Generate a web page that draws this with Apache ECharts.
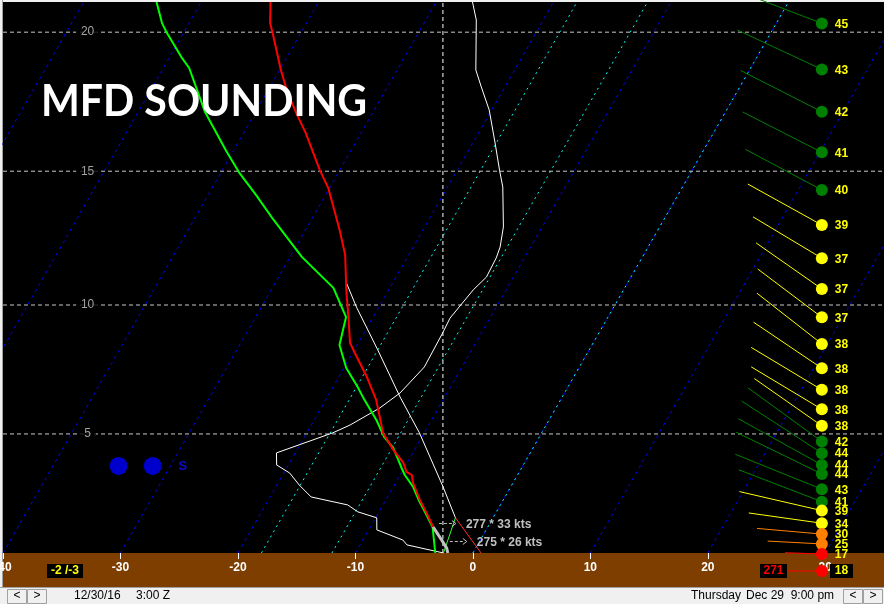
<!DOCTYPE html>
<html><head><meta charset="utf-8">
<script src="https://cdn.jsdelivr.net/npm/echarts/dist/echarts.min.js"></script>
<style>html,body{margin:0;padding:0;background:#f0f0f0;overflow:hidden}#c{width:884px;height:604px}</style>
</head><body><div id="c"></div>
<script>
// ---------------- data ----------------
const title = 'MFD SOUNDING';
const tempTicks = [-40, -30, -20, -10, 0, 10, 20, 30];
const heightLevelsKft = [5, 10, 15, 20];
const isoBlue = [-80, -70, -60, -50, -40, -30, -20, -10, 0, 10, 20, 30];
const isoCyan = [-18, -12, 0];
const refLineT = -2.55;

// temperature profile (deg C vs kft)
const tempKft = [21.06, 20.32, 19.97, 18.66, 17.84, 17.12, 16.39, 15.04, 14.38, 12.83, 11.89, 10.57, 9.54, 8.55, 8.16, 7.23, 6.34, 5.04, 4.37, 3.85, 3.49, 3.37, 3.05, 2.37, 1.85, 1.44, 1.28];
const tempC   = [-44.1, -43.1, -42.4, -39.9, -38.2, -36.5, -34.7, -31.7, -30.1, -27.1, -25.4, -23.6, -22.1, -20.7, -19.8, -17.6, -15.7, -13.5, -11.8, -10.3, -9.6, -9.0, -8.5, -7.1, -5.9, -5.0, -4.65];
// near-surface layer (grey)
const layerKft = [1.28, 0.96, 0.75, 0.42, 0.22];
const layerC   = [-4.65, -3.83, -3.29, -2.47, -2.13];
// dewpoint profile
const dewKft = [21.06, 20.32, 20.01, 19.12, 18.73, 18.01, 17.15, 15.74, 14.97, 14.12, 13.2, 11.82, 10.65, 9.54, 8.47, 7.58, 6.84, 6.34, 5.55, 4.88, 4.45, 3.69, 3.37, 2.89, 2.37, 1.85, 1.28, 0.22];
const dewC   = [-53.8, -52.3, -51.5, -49.0, -47.8, -46.2, -44.3, -40.6, -38.5, -35.9, -33.2, -29.0, -24.8, -22.3, -21.5, -19.8, -17.9, -16.7, -14.7, -13.2, -11.9, -10.3, -9.6, -8.3, -7.2, -6.0, -4.7, -3.2];
// white profile
const profKft = [21.06, 20.43, 18.66, 18.05, 17.22, 16.03, 15.04, 14.42, 12.94, 12.19, 11.78, 11.06, 10.57, 9.50, 8.93, 7.62, 6.61, 6.02, 5.35, 5.04, 4.25, 3.77, 3.45, 2.97, 2.49, 2.17, 1.89, 1.65, 1.16, 0.75, 0.55, 0.22];
const profC   = [-26.9, -25.7, -23.3, -22.0, -20.2, -18.1, -16.4, -15.3, -13.3, -12.6, -12.4, -12.3, -12.8, -13.4, -13.3, -13.2, -14.0, -15.0, -16.7, -17.8, -21.6, -21.0, -19.5, -18.1, -16.5, -13.0, -11.8, -9.9, -9.3, -6.6, -6.0, -2.5];
// parcel
const parcelKft = [10.87, 9.92, 8.28, 6.45, 5.04, 2.89, 1.65];
const parcelC   = [-24.0, -21.9, -18.0, -13.8, -10.4, -5.75, -3.2];
const linkKft = [1.65, 0.22];
const linkTempC = [-3.2, 0.7];
const linkDewC = [-3.2, -2.5];

// winds
const windKft = [20.31, 18.68, 17.16, 15.69, 14.31, 13.01, 11.77, 10.61, 9.53, 8.51, 7.57, 6.73, 5.97, 5.32, 4.70, 4.24, 3.77, 3.41, 2.80, 2.30, 1.94, 1.43, 0.99, 0.59, 0.18];
const windSpd = [45, 43, 42, 41, 40, 39, 37, 37, 37, 38, 38, 38, 38, 38, 42, 44, 44, 44, 43, 41, 39, 34, 30, 25, 17];
const windDir = [291, 295, 297, 297, 298, 299, 301, 305, 307, 308, 304, 301, 301, 305, 306, 303, 299, 296, 292, 291, 283, 278, 275, 273, 272];
const annKft = [1.42, 0.69];
const annX = [-2.89, -1.96];
const annDir = [277, 275];
const annSpd = [33, 26];
const sfcTemp = -2, sfcDew = -3, sfcDir = 271, sfcSpd = 18;

const precipType = 'S';
const precipKft = 3.73;
const precipDotsX = [-30.16, -27.26];
const precipLabelX = -24.7;

const dateLeft = '12/30/16', timeLeft = '3:00 Z', dayRight = 'Thursday', dateRight = 'Dec 29  9:00 pm';

// ---------------- scales ----------------
const BOTTOM_KFT = 0.22, TOP_KFT = 21.06;
function kftToL(k) { return -5.2559 * Math.log(1 - 6.8756e-6 * k * 1000); }
const LB = kftToL(BOTTOM_KFT), LT = kftToL(TOP_KFT);
const SKEW = 33.0;
function sk(t, k) { const L = kftToL(k); return [t + SKEW * (L - LB), L]; }
const BARB_X = 29.71;
const LABEL_X = -32.8;

const F = '"Liberation Sans", Arial, sans-serif';
const series = [];
function lineS(data, color, width, type, z) {
  return { type: 'line', data: data, symbol: 'none', silent: true, animation: false, clip: true,
    lineStyle: { color: color, width: width, type: type }, z: z };
}
isoBlue.forEach(t => series.push(lineS([[t, LB], [t + SKEW * (LT - LB), LT]], '#0000ff', 1, [3, 4], 1)));
isoCyan.forEach(t => series.push(lineS([[t, LB], [t + SKEW * (LT - LB), LT]], '#00ffff', 1, [2, 4], 1)));
heightLevelsKft.forEach(k => series.push(lineS([[-40, kftToL(k)], [35, kftToL(k)]], '#c8c8c8', 1, [4, 3], 1)));
series.push({ type: 'scatter', silent: true, animation: false, z: 2, symbolSize: 1,
  itemStyle: { color: 'rgba(0,0,0,0)' },
  data: heightLevelsKft.map(k => [LABEL_X, kftToL(k), k]),
  label: { show: true, position: 'inside', formatter: p => String(p.value[2]), color: '#c8c8c8',
    fontSize: 12, fontFamily: F, backgroundColor: '#000', padding: [1, 5] } });
series.push(lineS([[refLineT, LB], [refLineT, LT]], '#ffffff', 1, [4, 3], 1));
series.push(lineS(profC.map((t, i) => sk(t, profKft[i])), '#ffffff', 1, 'solid', 2));
series.push(lineS(parcelC.map((t, i) => sk(t, parcelKft[i])), '#ffffff', 1, 'solid', 2));
series.push(lineS(linkTempC.map((t, i) => sk(t, linkKft[i])), '#ff3030', 1, 'solid', 2));
series.push(lineS(linkDewC.map((t, i) => sk(t, linkKft[i])), '#30ff30', 1, 'solid', 2));
series.push(lineS(dewC.map((t, i) => sk(t, dewKft[i])), '#00ff00', 2, 'solid', 3));
series.push(lineS(tempC.map((t, i) => sk(t, tempKft[i])), '#ff0000', 2, 'solid', 3));
series.push(lineS(layerC.map((t, i) => sk(t, layerKft[i])), '#c0c0c0', 3, 'solid', 4));

// precip dots
series.push({ type: 'scatter', silent: true, animation: false, z: 4, symbolSize: 18,
  itemStyle: { color: '#0000ff' },
  data: precipDotsX.map(x => [x, kftToL(precipKft)]) });
series.push({ type: 'scatter', silent: true, animation: false, z: 4, symbolSize: 1,
  itemStyle: { color: 'rgba(0,0,0,0)' }, data: [[precipLabelX, kftToL(precipKft)]],
  label: { show: true, position: 'inside', formatter: precipType, color: '#1010ff', fontSize: 13, fontWeight: 'bold', fontFamily: F } });

function windColor(s) { return s >= 40 ? '#008000' : s > 30 ? '#ffff00' : s > 20 ? '#ff8000' : '#ff0000'; }
series.push({ type: 'custom', coordinateSystem: 'cartesian2d', clip: false, animation: false, silent: true, z: 5,
  data: windKft.map((k, i) => [BARB_X, kftToL(k), windSpd[i], windDir[i]]),
  renderItem: function (params, api) {
    const p = api.coord([api.value(0), api.value(1)]);
    const spd = api.value(2), dir = api.value(3);
    const len = 2.17 * spd, a = (dir - 270) * Math.PI / 180;
    const col = windColor(spd);
    return { type: 'group', children: [
      { type: 'line', shape: { x1: p[0] - len * Math.cos(a), y1: p[1] - len * Math.sin(a), x2: p[0], y2: p[1] }, style: { stroke: col, lineWidth: 1 } },
      { type: 'circle', shape: { cx: p[0], cy: p[1], r: 6 }, style: { fill: col } },
      { type: 'text', style: { text: String(spd), x: p[0] + 13, y: p[1] + 1, fill: '#ffff00', font: 'bold 12px ' + F,
        textAlign: 'left', textVerticalAlign: 'middle', align: 'left', verticalAlign: 'middle' } }
    ] };
  } });
series.push({ type: 'custom', coordinateSystem: 'cartesian2d', clip: false, animation: false, silent: true, z: 5,
  data: annKft.map((k, i) => [annX[i], kftToL(k), annDir[i], annSpd[i]]),
  renderItem: function (params, api) {
    const p = api.coord([api.value(0), api.value(1)]);
    const g = '#c0c0c0';
    return { type: 'group', children: [
      { type: 'line', shape: { x1: p[0], y1: p[1], x2: p[0] + 14, y2: p[1] }, style: { stroke: g, lineWidth: 1, lineDash: [3, 2] } },
      { type: 'polyline', shape: { points: [[p[0] + 13, p[1] - 3], [p[0] + 17, p[1]], [p[0] + 13, p[1] + 3]] }, style: { stroke: g, lineWidth: 1, fill: null } },
      { type: 'text', style: { text: api.value(2) + ' * ' + api.value(3) + ' kts', x: p[0] + 27, y: p[1] + 1, fill: g, font: 'bold 12px ' + F,
        textAlign: 'left', textVerticalAlign: 'middle', align: 'left', verticalAlign: 'middle' } }
    ] };
  } });

function txt(text, x, y, fill, font, align, z) {
  return { type: 'text', z: z || 10, style: { text: text, x: x, y: y, fill: fill, font: font,
    textAlign: align || 'left', textVerticalAlign: 'middle', align: align || 'left', verticalAlign: 'middle' } };
}
function rect(x, y, w, h, fill, z, stroke) {
  return { type: 'rect', z: z, shape: { x: x, y: y, width: w, height: h }, style: { fill: fill, stroke: stroke || null, lineWidth: 1 } };
}
const titleEl = txt(title, 0, 0, '#ffffff', 'bold 44px Lato, "Open Sans", sans-serif', 'left', 10);
titleEl.x = 41; titleEl.y = 102; titleEl.scaleX = 0.934;
const graphics = [
  rect(3, 553, 881, 34, '#7e3e00', -1),
  { type: 'line', z: -1, shape: { x1: 2.5, y1: 0, x2: 2.5, y2: 587 }, style: { stroke: '#a0a0a0', lineWidth: 1 } },
  { type: 'line', z: -1, shape: { x1: 0, y1: 587.5, x2: 884, y2: 587.5 }, style: { stroke: '#a0a0a0', lineWidth: 1 } },
  titleEl,
  rect(47, 564, 36, 14, '#000', 10),
  txt(sfcTemp + ' /' + sfcDew, 65, 571, '#ffff00', 'bold 12px ' + F, 'center', 11),
  { type: 'line', z: 10, shape: { x1: 787, y1: 571, x2: 822, y2: 571 }, style: { stroke: '#ff0000', lineWidth: 1 } },
  { type: 'circle', z: 11, shape: { cx: 822, cy: 571, r: 6 }, style: { fill: '#ff0000' } },
  rect(760, 564, 27, 14, '#000', 10),
  txt(String(sfcDir), 773.5, 571, '#ff0000', 'bold 12px ' + F, 'center', 11),
  rect(830, 564, 23, 14, '#000', 10),
  txt(String(sfcSpd), 841.5, 571, '#ffff00', 'bold 12px ' + F, 'center', 11),
  txt(dateLeft, 74, 596, '#000', '12px ' + F, 'left', 10),
  txt(timeLeft, 136, 596, '#000', '12px ' + F, 'left', 10),
  txt(dayRight, 691, 596, '#000', '12px ' + F, 'left', 10),
  txt(dateRight, 746, 596, '#000', '12px ' + F, 'left', 10)
];
[[7, '<'], [27, '>'], [843, '<'], [863, '>']].forEach(b => {
  graphics.push(rect(b[0] + 0.5, 589.5, 19, 14, '#f0f0f0', 10, '#a0a0a0'));
  graphics.push(txt(b[1], b[0] + 10, 596, '#000', '12px ' + F, 'center', 11));
});

const chart = echarts.init(document.getElementById('c'), null, { renderer: 'canvas' });
chart.setOption({
  backgroundColor: '#f0f0f0',
  animation: false,
  grid: { left: 3, top: 2, right: 0, bottom: 51, show: true, backgroundColor: '#000', borderWidth: 0,
    containLabel: false, outerBoundsMode: 'none' },
  xAxis: { type: 'value', min: -40, max: 35, interval: 10,
    axisLine: { show: false }, splitLine: { show: false },
    axisTick: { show: true, length: 6, lineStyle: { color: '#ffffff', width: 1 } },
    axisLabel: { color: '#ffffff', fontWeight: 'bold', fontSize: 12, fontFamily: F, margin: 9,
      showMaxLabel: false, formatter: v => tempTicks.indexOf(v) >= 0 ? String(v) : '' } },
  yAxis: { type: 'value', min: LB, max: LT, show: false, splitLine: { show: false } },
  series: series,
  graphic: graphics
});
</script></body></html>
